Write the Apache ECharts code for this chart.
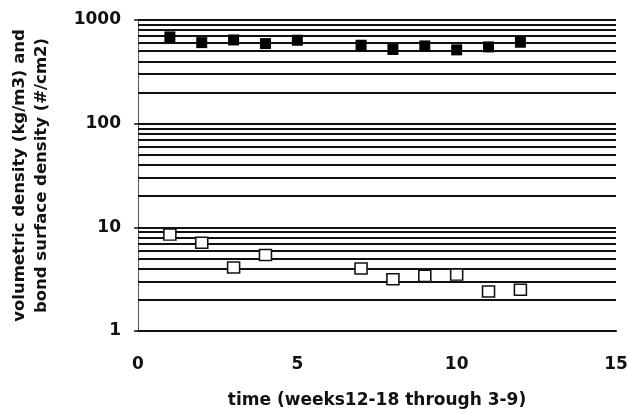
<!DOCTYPE html>
<html>
<head>
<meta charset="utf-8">
<style>
  html, body { margin: 0; padding: 0; background: #fff; }
  #chart { width: 630px; height: 414px; }
</style>
<script src="https://cdn.jsdelivr.net/npm/echarts@6.0.0/dist/echarts.min.js"></script>
</head>
<body>
<div id="chart"></div>
<script>
// volumetric density (filled squares)
const volWeeks = [1, 2, 3, 4, 5, 7, 8, 9, 10, 11, 12]
const volDensity = [687, 605, 642, 592, 638, 571, 519, 562, 515, 550, 610]
// bond surface density (open squares)
const bondWeeks = [1, 2, 3, 4, 7, 8, 9, 10, 11, 12]
const bondDensity = [8.5, 7.1, 4.1, 5.4, 4.0, 3.16, 3.4, 3.5, 2.4, 2.5]

const decades = [1, 10, 100]
const multiples = [2, 3, 4, 5, 6, 7, 8, 9, 10]

// horizontal grid at every 2..9 of each decade, like the old spreadsheet
var gridValues = []
decades.forEach(d => {
  multiples.forEach(m => gridValues.push(d * m))
})

const font = 'DejaVu Sans'

var chart = echarts.init(document.getElementById('chart'))
chart.setOption({
  animation: false,
  grid: { left: 138, right: 14, top: 20, bottom: 83, outerBoundsMode: 'none', containLabel: false },
  xAxis: {
    type: 'value',
    min: 0,
    max: 15,
    interval: 5,
    name: 'time (weeks12-18 through 3-9)',
    nameLocation: 'middle',
    nameGap: 61,
    nameTextStyle: { fontFamily: font, fontSize: 17, fontWeight: 'bold', color: '#111' },
    axisLine: { show: true, lineStyle: { color: '#111', width: 2 } },
    axisTick: { show: false },
    axisLabel: { fontFamily: font, fontSize: 17, fontWeight: 'bold', color: '#111', margin: 25 },
    splitLine: { show: false }
  },
  yAxis: {
    type: 'log',
    logBase: 10,
    min: 1,
    max: 1000,
    name: 'volumetric density (kg/m3) and\nbond surface density (#/cm2)',
    nameLocation: 'middle',
    nameRotate: 90,
    nameGap: 85,
    nameTextStyle: { fontFamily: font, fontSize: 16.5, fontWeight: 'bold', color: '#111', lineHeight: 22 },
    axisLine: { show: true, lineStyle: { color: '#333', width: 1, type: 'dotted' } },
    axisTick: { show: true, length: 4, lineStyle: { color: '#111', width: 1.5 } },
    axisLabel: {
      fontFamily: font, fontSize: 17, fontWeight: 'bold', color: '#111', margin: 17,
      formatter: v => String(v)
    },
    splitLine: { show: false }
  },
  series: [
    {
      type: 'line',
      data: [],
      z: 1,
      markLine: {
        silent: true,
        symbol: 'none',
        label: { show: false },
        lineStyle: { color: '#111', width: 2, type: 'solid' },
        data: gridValues.map(v => ({ yAxis: v }))
      }
    },
    {
      name: 'volumetric',
      type: 'scatter',
      z: 5,
      symbol: 'rect',
      symbolSize: [11, 11],
      itemStyle: { color: '#000', opacity: 1 },
      data: volWeeks.map((w, i) => [w, volDensity[i]])
    },
    {
      name: 'bond',
      type: 'scatter',
      z: 5,
      symbol: 'rect',
      symbolSize: [12, 11],
      itemStyle: { color: '#fff', borderColor: '#111', borderWidth: 1.5, opacity: 1 },
      data: bondWeeks.map((w, i) => [w, bondDensity[i]])
    }
  ]
})
</script>
</body>
</html>
